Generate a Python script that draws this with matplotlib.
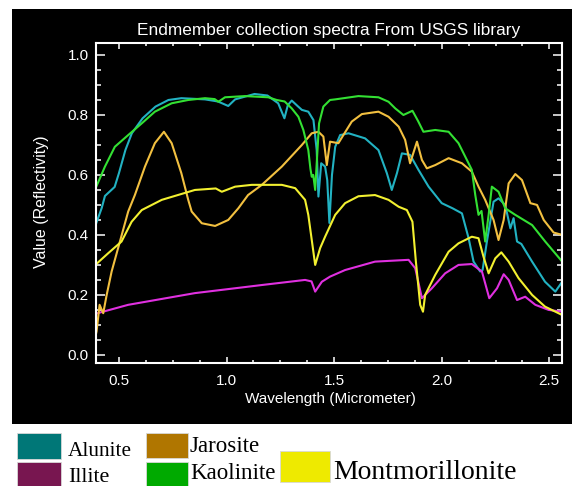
import matplotlib
matplotlib.use("Agg")
import matplotlib.pyplot as plt
from matplotlib.ticker import MultipleLocator, FormatStrFormatter
from matplotlib.patches import Rectangle

# ---------------- data ----------------
alunite_wl = [0.39, 0.40, 0.42, 0.435, 0.45, 0.48, 0.50, 0.53, 0.56, 0.61, 0.67, 0.73, 0.79,
              0.90, 0.96, 1.008, 1.04, 1.13, 1.19, 1.24, 1.269, 1.285, 1.303, 1.33, 1.35,
              1.38, 1.404, 1.419, 1.427, 1.44, 1.458, 1.468, 1.478, 1.49, 1.505, 1.528, 1.567,
              1.644, 1.706, 1.745, 1.768, 1.792, 1.815, 1.853, 1.892, 1.939, 2.00, 2.05, 2.094,
              2.125, 2.148, 2.179, 2.19, 2.21, 2.241, 2.264, 2.295, 2.319, 2.334, 2.35, 2.37,
              2.42, 2.48, 2.528, 2.56]
alunite_refl = [0.43, 0.45, 0.49, 0.53, 0.54, 0.56, 0.606, 0.683, 0.739, 0.789, 0.828, 0.85, 0.856,
                0.852, 0.845, 0.83, 0.852, 0.87, 0.865, 0.839, 0.789, 0.833, 0.848, 0.83, 0.817,
                0.811, 0.783, 0.683, 0.528, 0.639, 0.628, 0.583, 0.44, 0.60, 0.694, 0.733, 0.739,
                0.722, 0.683, 0.606, 0.55, 0.606, 0.672, 0.667, 0.617, 0.561, 0.506, 0.489, 0.472,
                0.389, 0.311, 0.278, 0.283, 0.378, 0.511, 0.522, 0.50, 0.422, 0.456, 0.378, 0.37,
                0.311, 0.244, 0.211, 0.244]

illite_wl = [0.39, 0.543, 0.853, 1.164, 1.365, 1.395, 1.412, 1.443, 1.481, 1.551, 1.69, 1.846,
             1.877, 1.908, 1.954, 2.016, 2.078, 2.14, 2.187, 2.221, 2.257, 2.288, 2.311, 2.35,
             2.388, 2.435, 2.497, 2.56]
illite_refl = [0.137, 0.167, 0.206, 0.233, 0.25, 0.245, 0.211, 0.244, 0.261, 0.283, 0.311, 0.317,
               0.289, 0.189, 0.222, 0.272, 0.30, 0.303, 0.278, 0.189, 0.222, 0.269, 0.25, 0.183,
               0.194, 0.167, 0.15, 0.144]

jarosite_wl = [0.39, 0.396, 0.41, 0.427, 0.443, 0.466, 0.513, 0.543, 0.574, 0.621, 0.667, 0.709,
               0.745, 0.79, 0.822, 0.838, 0.885, 0.947, 1.008, 1.055, 1.10, 1.164, 1.257, 1.35,
               1.396, 1.427, 1.45, 1.466, 1.481, 1.52, 1.543, 1.582, 1.629, 1.706, 1.753, 1.80,
               1.83, 1.853, 1.885, 1.908, 1.931, 1.97, 2.032, 2.094, 2.14, 2.171, 2.202, 2.241,
               2.264, 2.288, 2.311, 2.342, 2.373, 2.412, 2.443, 2.474, 2.52, 2.56]
jarosite_refl = [0.06, 0.078, 0.167, 0.139, 0.2, 0.278, 0.40, 0.478, 0.533, 0.628, 0.706, 0.744,
                 0.706, 0.606, 0.517, 0.478, 0.439, 0.43, 0.45, 0.489, 0.533, 0.567, 0.628, 0.70,
                 0.739, 0.744, 0.728, 0.633, 0.711, 0.706, 0.733, 0.778, 0.803, 0.811, 0.794, 0.761,
                 0.717, 0.639, 0.711, 0.65, 0.622, 0.633, 0.656, 0.639, 0.611, 0.561, 0.517, 0.45,
                 0.383, 0.45, 0.572, 0.603, 0.583, 0.506, 0.50, 0.45, 0.408, 0.40]

kaolinite_wl = [0.388, 0.435, 0.481, 0.543, 0.606, 0.667, 0.745, 0.822, 0.90, 0.945, 0.962, 0.993,
                1.086, 1.194, 1.233, 1.27, 1.303, 1.334, 1.357, 1.38, 1.39, 1.396, 1.403, 1.412,
                1.42, 1.43, 1.45, 1.481, 1.505, 1.613, 1.706, 1.753, 1.784, 1.822, 1.864, 1.89,
                1.915, 1.97, 2.032, 2.078, 2.117, 2.14, 2.156, 2.171, 2.185, 2.202, 2.218, 2.233,
                2.264, 2.295, 2.342, 2.42, 2.481, 2.56]
kaolinite_refl = [0.55, 0.628, 0.694, 0.733, 0.772, 0.811, 0.839, 0.85, 0.856, 0.853, 0.844, 0.859,
                  0.863, 0.859, 0.85, 0.845, 0.822, 0.794, 0.75, 0.683, 0.62, 0.594, 0.60, 0.55,
                  0.65, 0.772, 0.828, 0.85, 0.852, 0.863, 0.859, 0.844, 0.822, 0.80, 0.814, 0.78,
                  0.744, 0.75, 0.744, 0.706, 0.65, 0.617, 0.533, 0.467, 0.48, 0.378, 0.467, 0.561,
                  0.544, 0.489, 0.467, 0.433, 0.378, 0.311]

montmorillonite_wl = [0.39, 0.45, 0.512, 0.559, 0.606, 0.699, 0.853, 0.95, 0.978, 1.04, 1.117,
                      1.257, 1.319, 1.365, 1.38, 1.412, 1.435, 1.458, 1.505, 1.551, 1.613, 1.69,
                      1.753, 1.80, 1.838, 1.864, 1.88, 1.90, 1.913, 1.923, 1.97, 2.032, 2.078,
                      2.14, 2.171, 2.194, 2.218, 2.249, 2.277, 2.311, 2.357, 2.42, 2.48, 2.56]
montmorillonite_refl = [0.30, 0.339, 0.378, 0.444, 0.483, 0.517, 0.55, 0.555, 0.544, 0.561, 0.567,
                        0.567, 0.556, 0.517, 0.467, 0.30, 0.356, 0.394, 0.467, 0.506, 0.529, 0.533,
                        0.517, 0.494, 0.483, 0.444, 0.311, 0.167, 0.144, 0.20, 0.267, 0.344, 0.372,
                        0.394, 0.389, 0.328, 0.272, 0.322, 0.342, 0.311, 0.256, 0.20, 0.161, 0.133]

names = ["Alunite", "Illite", "Jarosite", "Kaolinite", "Montmorillonite"]
line_colors = ["#22b2c2", "#e030e0", "#f2c040", "#33e033", "#f2f030"]
box_colors = ["#007777", "#781650", "#b07600", "#00aa00", "#eeea00"]

title = "Endmember collection spectra From USGS library"
xlabel = "Wavelength (Micrometer)"
ylabel = "Value (Reflectivity)"

# ---------------- figure ----------------
W, H = 572, 486
fig = plt.figure(figsize=(W / 100, H / 100), dpi=100)
fig.patch.set_facecolor("white")

def fx(px):
    return px / W

def fy(py):
    return 1 - py / H

# black panel (behind the axes)
fig.patches.append(Rectangle((fx(12), fy(424)), fx(572) - fx(12), fy(9) - fy(424),
                             transform=fig.transFigure, facecolor="black", edgecolor="none",
                             zorder=-5))

ax = fig.add_axes([fx(95.7), fy(362.7), fx(562) - fx(95.7), fy(43.3) - fy(362.7)])
ax.set_facecolor("black")
ax.set_zorder(2)

series = [(alunite_wl, alunite_refl), (illite_wl, illite_refl), (jarosite_wl, jarosite_refl),
          (kaolinite_wl, kaolinite_refl), (montmorillonite_wl, montmorillonite_refl)]
for (wl, rf), c in zip(series, line_colors):
    ax.plot(wl, rf, color=c, lw=1.5, solid_joinstyle="round")

ax.set_xlim(0.392, 2.559)
ax.set_ylim(-0.026, 1.039)

sans = "Liberation Sans"
ax.xaxis.set_major_locator(MultipleLocator(0.5))
ax.xaxis.set_minor_locator(MultipleLocator(0.125))
ax.yaxis.set_major_locator(MultipleLocator(0.2))
ax.yaxis.set_minor_locator(MultipleLocator(0.05))
ax.xaxis.set_major_formatter(FormatStrFormatter("%.1f"))
ax.yaxis.set_major_formatter(FormatStrFormatter("%.1f"))

for s in ax.spines.values():
    s.set_color("white")
    s.set_linewidth(1.5)

ax.tick_params(axis="x", which="major", direction="in", length=4.6, width=1.1, colors="white",
               top=True, bottom=True, pad=8, labelsize=11)
ax.tick_params(axis="x", which="minor", direction="in", length=2.3, width=1.1, colors="white",
               top=True, bottom=True)
ax.tick_params(axis="y", which="major", direction="in", length=6.7, width=1.1, colors="white",
               left=True, right=True, pad=5, labelsize=11)
ax.tick_params(axis="y", which="minor", direction="in", length=3.4, width=1.1, colors="white",
               left=True, right=True)
for lab in ax.get_xticklabels() + ax.get_yticklabels():
    lab.set_fontfamily(sans)

fig.text(fx(329), fy(30), title, color="white", fontsize=12.4, family=sans,
         ha="center", va="center")
fig.text(fx(330), fy(399), xlabel, color="white", fontsize=11, family=sans,
         ha="center", va="center")
fig.text(fx(42), fy(202), ylabel, color="white", fontsize=11.5, family=sans,
         ha="center", va="center", rotation=90)

# ---------------- legend (below the black panel) ----------------
serif = "Liberation Serif"
# (box x0, box y0, box x1, box y1, text x, text baseline y, fontsize) in pixels
legend_layout = [
    (17, 433, 61, 459, 68, 456, 15.3),
    (17, 462, 61, 487, 68, 482, 15.8),
    (146, 433, 188, 458, 190, 452, 16.6),
    (146, 462, 188, 487, 190, 479, 16.6),
    (280, 451, 330, 482, 333, 479, 20),
]
for name, bc, (x0, y0, x1, y1, tx, ty, fs) in zip(names, box_colors, legend_layout):
    fig.patches.append(Rectangle((fx(x0), fy(y1)), fx(x1) - fx(x0), fy(y0) - fy(y1),
                                 transform=fig.transFigure, facecolor=bc,
                                 edgecolor="#d8d8d8", lw=0.6, zorder=1))
    fig.text(fx(tx), fy(ty), name, color="black", fontsize=fs, family=serif,
             ha="left", va="baseline")

fig.savefig("out.png", dpi=100, facecolor="white")
